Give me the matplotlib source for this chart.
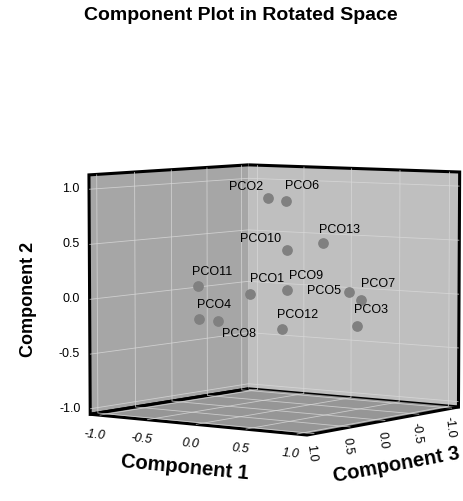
import numpy as np
import matplotlib.pyplot as plt
from mpl_toolkits.mplot3d import proj3d

plt.rcParams['font.family'] = ['Liberation Sans', 'DejaVu Sans']

# rotated component loadings
names = ['PCO1', 'PCO2', 'PCO3', 'PCO4', 'PCO5', 'PCO6', 'PCO7',
         'PCO8', 'PCO9', 'PCO10', 'PCO11', 'PCO12', 'PCO13']
comp1 = [0.28, 0.17, 0.89, -0.10, 0.83, 0.28, 0.89, 0.00, 0.50, 0.39, -0.05, 0.50, 0.61]
comp2 = [0.10, 0.93, -0.20, -0.13, 0.10, 0.90, 0.03, -0.15, 0.13, 0.47, 0.17, -0.21, 0.53]
comp3 = [0.74, 0.34, 0.11, 0.93, 0.13, 0.25, 0.05, 0.80, 0.54, 0.39, 1.00, 0.60, 0.19]
ticks = [-1.0, -0.5, 0.0, 0.5, 1.0]
tick_labels = ['-1.0', '-0.5', '0.0', '0.5', '1.0']

# label offsets (points) relative to each marker
label_off = {'PCO1': (12, 11), 'PCO2': (-16, 8), 'PCO3': (10, 11), 'PCO4': (11, 10),
             'PCO5': (-18, 1), 'PCO6': (12, 11), 'PCO7': (12, 11), 'PCO8': (15, -10),
             'PCO9': (14, 10), 'PCO10': (-19, 8), 'PCO11': (10, 10), 'PCO12': (11, 10),
             'PCO13': (12, 10)}

lim = 1.1
zlo, zhi = -1.05, 1.13

fig = plt.figure(figsize=(4.63, 5.01), dpi=100)
ax = fig.add_axes([0.17, -0.094, 0.83, 1.0], projection='3d')
ax.set_proj_type('persp', focal_length=1.5)
ax.view_init(elev=5, azim=36)
ax.set_box_aspect((1, 1, 0.9), zoom=1.12)

# mpl x = component 3, y = component 1, z = component 2
ax.set_xlim(-lim, lim)
ax.set_ylim(-lim, lim)
ax.set_zlim(zlo, zhi)
ax.set_xticks(ticks)
ax.set_yticks(ticks)
ax.set_zticks(ticks)
ax.set_xticklabels([])
ax.set_yticklabels([])
ax.set_zticklabels([])

ax.xaxis.set_pane_color((0.75, 0.75, 0.75, 1.0))
ax.yaxis.set_pane_color((0.65, 0.65, 0.65, 1.0))
ax.zaxis.set_pane_color((0.59, 0.59, 0.59, 1.0))
for axis in (ax.xaxis, ax.yaxis, ax.zaxis):
    axis.pane.set_edgecolor('black')
    axis.pane.set_linewidth(2.2)
    axis.line.set_visible(False)
    axis._axinfo['grid'].update({'color': (0.85, 0.85, 0.85, 0.8), 'linewidth': 0.6})
    axis._axinfo['tick']['inward_factor'] = 0.0
    axis._axinfo['tick']['outward_factor'] = 0.0

ax.scatter(comp3, comp1, comp2, s=45, color='#808080', depthshade=False)

# project 3d anchors to 2d so texts are ordinary annotations
fig.canvas.draw()
M = ax.get_proj()


def to2d(x, y, z):
    px, py, _ = proj3d.proj_transform(x, y, z, M)
    return float(px), float(py)


def angle(p, d):
    a = ax.transData.transform(to2d(*p))
    b = ax.transData.transform(to2d(p[0] + d[0], p[1] + d[1], p[2] + d[2]))
    return np.degrees(np.arctan2(b[1] - a[1], b[0] - a[0]))


def label(p, s, off, rot=0, **kw):
    ax.annotate(s, xy=to2d(*p), xytext=off, textcoords='offset points',
                rotation=rot, ha='center', va='center', annotation_clip=False, **kw)


for n, c1, c2, c3 in zip(names, comp1, comp2, comp3):
    label((c3, c1, c2), n, label_off[n], fontsize=9)

# tick labels
for t, lab in zip(ticks, tick_labels):
    ax.annotate(lab, xy=to2d(lim, -lim, t), xytext=(-7, 0), textcoords='offset points',
                ha='right', va='center', fontsize=9, annotation_clip=False)
    p = (lim, t, zlo)
    label(p, lab, (-4, -14), angle(p, (0, 1, 0)), fontsize=9, style='italic')
    p = (t, lim, zlo)
    label(p, lab, (-2, -14), angle(p, (-0.2, 0, -1)), fontsize=9)

p = (lim, 0, zlo)
label(p, 'Component 1', (-8, -31), angle(p, (0, 1, 0)), fontsize=14.5, weight='bold')
p = (0, lim, zlo)
label(p, 'Component 3', (8, -32), angle(p, (-1, 0, 0)), fontsize=14.5, weight='bold')
label((lim, -lim, 0), 'Component 2', (-44, 0), 90, fontsize=13, weight='bold')

fig.text(241 / 463, 1 - 16 / 501, 'Component Plot in Rotated Space', fontsize=14,
         weight='bold', ha='center', va='center')

plt.savefig('out.png', dpi=100)
